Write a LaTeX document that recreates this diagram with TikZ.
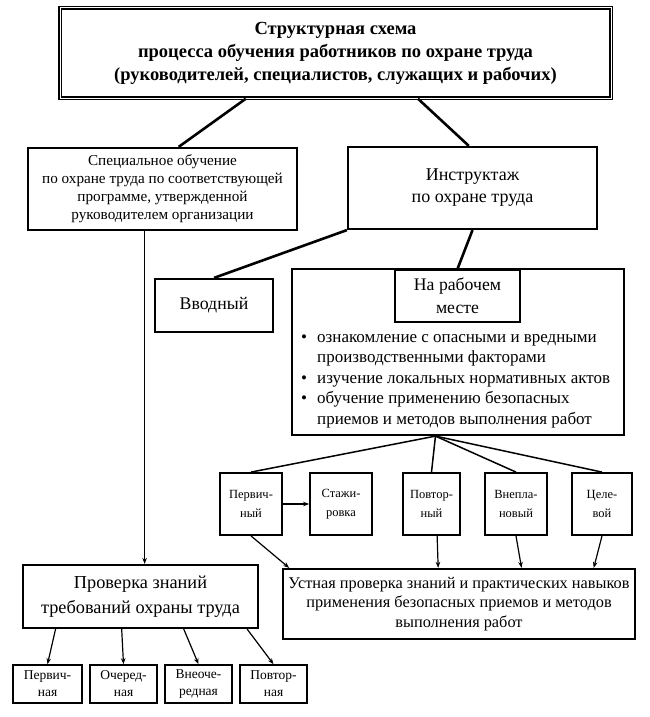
\documentclass[tikz,border=0pt]{standalone}
\usepackage{fontspec}
\setmainfont{Liberation Serif}
\usetikzlibrary{arrows.meta}

\begin{document}
\begin{tikzpicture}[x=1pt,y=-1pt,
    box/.style={draw,line width=2.2pt,align=center,inner sep=0pt},
    kind/.style={draw,line width=1.8pt,align=center,inner sep=0pt,minimum height=62pt,font=\fontsize{12.5}{19.5}\selectfont},
    check/.style={draw,line width=1.6pt,align=center,inner sep=0pt,minimum width=67pt,minimum height=38pt,font=\fontsize{13.5}{17}\selectfont},
    link/.style={line width=2.6pt},
    fan/.style={line width=1.5pt},
    arr/.style={line width=1.2pt,-{Stealth[length=6pt,width=4.5pt]}}]
  \useasboundingbox (0,0) rectangle (650,717);
  \draw
    (335.5,53) node (schema)[box,double,double distance=1pt,line width=1.4pt,minimum width=551pt,minimum height=90pt,font=\bfseries\fontsize{18.5}{23}\selectfont]{Структурная схема\\процесса обучения работников по охране труда\\(руководителей, специалистов, служащих и рабочих)}
    (162.5,189) node (special)[box,minimum width=269pt,minimum height=82pt,font=\fontsize{15.2}{18}\selectfont]{Специальное обучение\\по охране труда по соответствующей\\программе, утвержденной\\руководителем организации}
    (472.5,188) node (instr)[box,minimum width=249pt,minimum height=82pt,font=\fontsize{18}{22}\selectfont]{Инструктаж\\по охране труда}
    (214,305.5) node (intro)[box,minimum width=118pt,minimum height=53pt,font=\fontsize{17.8}{22}\selectfont]{Вводный}
    (458,352) node (workplace)[box,minimum width=332pt,minimum height=166pt]{}
    (457.5,296) node (wphead)[box,minimum width=125pt,minimum height=52pt,font=\fontsize{17.7}{23}\selectfont]{На рабочем\\месте}
    (301,381) node (wpitems)[anchor=west,align=left,inner sep=0pt,font=\fontsize{17}{20.5}\selectfont]{\makebox[16pt][l]{•}ознакомление с опасными и вредными\\\makebox[16pt][l]{}производственными факторами\\\makebox[16pt][l]{•}изучение локальных нормативных актов\\\makebox[16pt][l]{•}обучение применению безопасных\\\makebox[16pt][l]{}приемов и методов выполнения работ}
    (251,504) node (first)[kind,minimum width=62pt]{Первич-\\ный}
    (341,504) node (trainee)[kind,minimum width=62pt]{Стажи-\\ровка}
    (431.5,504) node (repeat)[kind,minimum width=57pt]{Повтор-\\ный}
    (516,504) node (unplanned)[kind,minimum width=62pt]{Внепла-\\новый}
    (602,504) node (target)[kind,minimum width=60pt]{Целе-\\вой}
    (459,604) node (oral)[box,minimum width=352pt,minimum height=70pt,font=\fontsize{16.3}{19.5}\selectfont]{Устная проверка знаний и практических навыков\\применения безопасных приемов и методов\\выполнения работ}
    (140.5,596.5) node (verify)[box,minimum width=235pt,minimum height=63pt,font=\fontsize{18.3}{25}\selectfont]{Проверка знаний\\требований охраны труда}
    (47.5,684) node (vfirst)[check,minimum width=69pt]{Первич-\\ная}
    (123.5,684) node (vregular)[check]{Очеред-\\ная}
    (198.5,684) node (vextra)[check]{Внеоче-\\редная}
    (273.5,684) node (vrepeat)[check]{Повтор-\\ная};
  \begin{scope}[link]
    \draw (schema.-153) to (special.69);
    \draw (schema.-29) to (instr.95);
    \draw (instr.south west) to (intro.north);
    \draw (instr.south) to (wphead.north);
  \end{scope}
  \begin{scope}[fan]
    \draw (workplace.-105) to (first.north);
    \draw (workplace.-105) to (repeat.north);
    \draw (workplace.-105) to (unplanned.north);
    \draw (workplace.-105) to (target.north);
  \end{scope}
  \begin{scope}[arr]
    \draw (first.east) to (trainee.west);
    \draw (first.south) to (oral.168);
    \draw (repeat.-80) to (oral.120);
    \draw (unplanned.south) to (oral.30);
    \draw (target.south) to (oral.15);
    \draw (special.-113) to (special.-113 |- verify.north);
    \draw (verify.-159) to (vfirst.north);
    \draw (verify.-120) to (vregular.north);
    \draw (verify.-37) to (vextra.north);
    \draw (verify.-17) to (vrepeat.north);
  \end{scope}
\end{tikzpicture}
\end{document}
